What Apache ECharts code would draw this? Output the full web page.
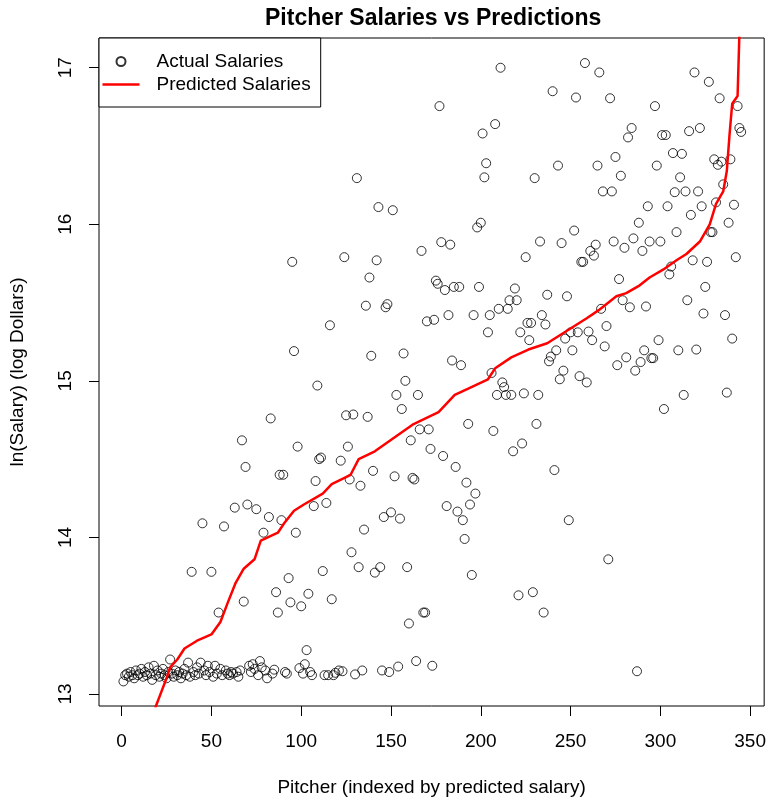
<!DOCTYPE html>
<html>
<head>
<meta charset="utf-8">
<script src="https://cdn.jsdelivr.net/npm/echarts@6/dist/echarts.min.js"></script>
<style>
html, body { margin: 0; padding: 0; background: #fff; }
#main { width: 769px; height: 803px; }
</style>
</head>
<body>
<div id="main"></div>
<script>
// [pitcher index, ln(salary)]
var actualSalaries = [
  [1,13.08],[2,13.12],[3,13.13],[4,13.11],[5,13.14],[6,13.12],[7,13.10],[8,13.15],[9,13.12],[10,13.13],
  [11,13.16],[12,13.11],[13,13.14],[14,13.12],[15,13.17],[16,13.13],[17,13.09],[18,13.18],[19,13.12],[20,13.15],
  [21,13.11],[22,13.13],[23,13.16],[24,13.12],[25,13.10],[26,13.14],[27,13.22],[28,13.13],[29,13.11],[30,13.15],
  [31,13.12],[32,13.14],[33,13.10],[34,13.13],[35,13.16],[36,13.12],[37,13.20],[38,13.11],[39,13.78],[40,13.14],
  [41,13.12],[42,13.17],[43,13.13],[44,13.20],[45,14.09],[46,13.15],[47,13.12],[48,13.18],[49,13.14],[50,13.78],
  [51,13.11],[52,13.18],[53,13.13],[54,13.52],[55,13.16],[56,13.12],[57,14.07],[58,13.15],[59,13.13],[60,13.12],
  [61,13.14],[62,13.13],[63,14.19],[64,13.14],[65,13.11],[66,13.15],[67,14.62],[68,13.59],[69,14.45],[70,14.21],
  [71,13.18],[72,13.14],[73,13.19],[74,13.16],[75,14.18],[76,13.12],[77,13.21],[78,13.17],[79,14.03],[80,13.15],
  [81,13.10],[82,14.13],[83,14.76],[84,13.13],[85,13.155],[86,13.65],[87,13.52],[88,14.40],[89,14.11],[90,14.40],
  [91,13.14],[92,13.13],[93,13.74],[94,13.585],[95,15.76],[96,15.19],[97,14.03],[98,14.58],[99,13.165],[100,13.56],
  [101,13.13],[102,13.19],[103,13.28],[104,13.64],[105,13.14],[106,13.12],[107,14.20],[108,14.36],[109,14.97],[110,14.50],
  [111,14.51],[112,13.785],[113,13.12],[114,14.22],[115,13.12],[116,15.355],[117,13.605],[118,13.12],[119,13.135],[121,13.15],
  [122,14.49],[123,13.145],[124,15.79],[125,14.78],[126,14.58],[127,14.37],[128,13.905],[129,14.785],[130,13.125],
  [131,16.295],[132,13.81],[133,14.33],[134,13.15],[135,14.05],[136,15.48],[137,14.77],[138,15.66],[139,15.16],[140,14.425],
  [141,13.775],[142,15.77],[143,16.11],[144,13.81],[145,13.15],[146,14.13],[147,15.47],[148,15.49],[149,13.14],[150,14.16],
  [151,16.09],[152,14.39],[153,14.91],[154,13.175],[155,14.12],[156,14.82],[157,15.175],[158,15.00],[159,13.81],[160,13.45],
  [161,14.62],[162,14.38],[163,14.37],[164,13.21],[165,14.91],[166,14.69],[167,15.83],[168,13.52],[169,13.52],[170,15.38],
  [171,14.69],[172,14.565],[173,13.18],[174,15.39],[175,15.64],[176,15.62],[177,16.755],[178,15.886],[179,14.52],[180,15.58],
  [181,14.20],[182,15.42],[183,15.87],[184,15.13],[185,15.60],[186,14.45],[187,14.165],[188,15.60],[189,15.10],[190,14.11],
  [191,13.99],[192,14.35],[193,14.725],[194,14.21],[195,13.76],[196,15.42],[197,14.28],[198,15.98],[199,15.60],[200,16.01],
  [201,16.58],[202,16.30],[203,16.39],[204,15.31],[205,15.42],[206,15.05],[207,14.68],[208,16.64],[209,14.91],[210,15.46],
  [211,17.00],[212,14.99],[213,14.96],[214,14.91],[215,15.46],[216,15.515],[217,14.91],[218,14.55],[219,15.59],[220,15.515],
  [221,13.63],[222,15.31],[223,14.60],[224,14.92],[225,15.79],[226,15.37],[227,15.26],[228,15.37],[229,13.65],[230,16.295],
  [231,14.725],[232,14.91],[233,15.89],[234,15.42],[235,13.52],[236,15.36],[237,15.55],[238,15.125],[239,15.155],[240,16.85],
  [241,14.43],[242,15.195],[243,16.375],[244,15.01],[245,15.88],[246,15.065],[247,15.27],[248,15.54],[249,14.11],[250,15.31],
  [251,15.195],[252,15.96],[253,16.81],[254,15.31],[255,15.03],[256,15.76],[257,15.76],[258,17.03],[259,14.99],[260,15.315],
  [261,15.83],[262,15.26],[263,15.80],[264,15.87],[265,16.375],[266,16.97],[267,15.46],[268,16.21],[269,15.22],[270,15.35],
  [271,13.86],[272,16.805],[273,16.21],[274,15.89],[275,16.43],[276,15.10],[277,15.65],[278,16.31],[279,15.515],[280,15.85],
  [281,15.15],[282,16.555],[283,15.47],[284,16.615],[285,15.91],[286,15.065],[287,13.145],[288,16.01],[289,15.12],[290,15.83],
  [291,15.195],[292,15.475],[293,16.115],[294,15.89],[295,15.145],[296,15.145],[297,16.755],[298,16.375],[299,15.26],[300,15.89],
  [301,16.57],[302,14.82],[303,16.57],[304,16.115],[305,15.68],[306,15.73],[307,16.455],[308,16.205],[309,15.95],[310,15.195],
  [311,16.30],[312,16.45],[313,14.91],[314,16.21],[315,15.515],[316,16.595],[317,16.06],[318,15.77],[319,16.97],[320,15.20],
  [321,16.21],[322,16.615],[323,16.115],[324,15.43],[325,15.60],[326,15.76],[327,16.91],[328,15.95],[329,15.95],[330,16.415],
  [331,16.14],[332,16.38],[333,16.805],[334,16.40],[335,16.255],[336,15.42],[337,14.925],[338,16.01],[339,16.415],[340,15.27],
  [341,16.125],[342,15.79],[343,16.755],[344,16.615],[345,16.59]
];

// fitted values, sorted
var predictedIndex = [1, 10, 19, 22, 25, 27, 31, 35, 42, 50, 55, 59, 63.5, 68, 74, 77.5, 87, 90.5, 96, 101.5,
  112, 117, 127.5, 132, 141, 162, 176.5, 185.5, 193, 204, 208, 217, 226.5, 237, 248, 259, 265.5, 275.5, 281,
  288.5, 294, 301.5, 309, 314.5, 322, 327.5, 331, 335, 337, 338.5, 340, 343, 345];
var predictedSalary = [12.2, 12.6, 12.92, 13.01, 13.10, 13.17, 13.22, 13.29, 13.34, 13.38, 13.46, 13.58, 13.71, 13.80, 13.86, 13.98, 14.03, 14.09, 14.17, 14.21,
  14.28, 14.34, 14.40, 14.50, 14.55, 14.72, 14.80, 14.91, 14.95, 15.01, 15.08, 15.15, 15.20, 15.24, 15.32, 15.40, 15.45, 15.54, 15.56,
  15.61, 15.66, 15.71, 15.77, 15.81, 15.89, 16.00, 16.13, 16.21, 16.34, 16.57, 16.77, 16.82, 17.6];

var xTicks = [0, 50, 100, 150, 200, 250, 300, 350];
var yTicks = [13, 14, 15, 16, 17];

var font = "'Liberation Sans', Arial, Helvetica, sans-serif";

var predictedLine = predictedIndex.map(function (x, i) { return [x, predictedSalary[i]]; });

var myChart = echarts.init(document.getElementById('main'), null, { renderer: 'canvas' });
myChart.setOption({
  animation: false,
  backgroundColor: '#fff',
  textStyle: { fontFamily: font, color: '#000' },
  title: {
    text: 'Pitcher Salaries vs Predictions',
    left: 265,
    top: 7,
    padding: 0,
    textStyle: { fontFamily: font, fontSize: 23, fontWeight: 'bold', color: '#000' }
  },
  legend: {
    data: [
      { name: 'Actual Salaries' },
      { name: 'Predicted Salaries', icon: 'path://M0,0L37,0L37,2.5L0,2.5Z' }
    ],
    orient: 'vertical',
    left: 99,
    top: 38,
    padding: [12, 10, 11, 3.5],
    itemGap: 0,
    itemWidth: 37,
    itemHeight: 9,
    selectedMode: false,
    backgroundColor: '#fff',
    borderColor: '#000',
    borderWidth: 1,
    borderRadius: 0,
    z: 10,
    textStyle: { fontFamily: font, fontSize: 19, color: '#000', lineHeight: 23, padding: [0, 0, 0, 12] }
  },
  grid: {
    show: true,
    left: 99,
    right: 3,
    top: 38,
    bottom: 97,
    borderColor: '#000',
    borderWidth: 1,
    backgroundColor: 'transparent'
  },
  xAxis: {
    type: 'value',
    min: -12.6,
    max: 357.8,
    name: 'Pitcher (indexed by predicted salary)',
    nameLocation: 'middle',
    nameGap: 72,
    nameTextStyle: { fontFamily: font, fontSize: 19, color: '#000' },
    splitLine: { show: false },
    axisLine: { show: false, onZero: false },
    axisTick: { show: true, length: 10, customValues: xTicks, lineStyle: { color: '#000' } },
    axisLabel: { customValues: xTicks, margin: 26, fontFamily: font, fontSize: 19, color: '#000' }
  },
  yAxis: {
    type: 'value',
    min: 12.923,
    max: 17.19,
    name: 'ln(Salary) (log Dollars)',
    nameLocation: 'middle',
    nameGap: 72,
    nameTextStyle: { fontFamily: font, fontSize: 19, color: '#000' },
    splitLine: { show: false },
    axisLine: { show: false, onZero: false },
    axisTick: { show: true, length: 10, customValues: yTicks, lineStyle: { color: '#000' } },
    axisLabel: { customValues: yTicks, rotate: 90, margin: 24, fontFamily: font, fontSize: 19, color: '#000' }
  },
  series: [{
    name: 'Actual Salaries',
    type: 'scatter',
    symbol: 'circle',
    symbolSize: 9,
    itemStyle: { color: 'rgba(0,0,0,0)', borderColor: '#000', borderWidth: 1 },
    data: actualSalaries
  }, {
    name: 'Predicted Salaries',
    type: 'line',
    symbol: 'none',
    clip: true,
    lineStyle: { color: '#ff0000', width: 2.5 },
    itemStyle: { color: '#ff0000' },
    data: predictedLine
  }]
});
</script>
</body>
</html>
